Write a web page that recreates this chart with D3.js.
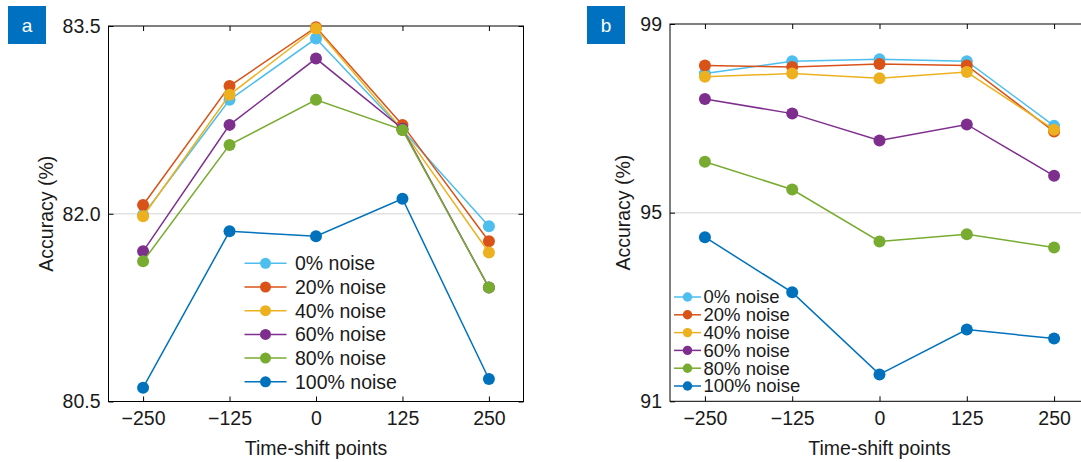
<!DOCTYPE html>
<html>
<head>
<meta charset="utf-8">
<script src="https://cdn.jsdelivr.net/npm/d3@7"></script>
<style>
    body { margin: 0; background: #fff; }
    svg { display: block; font-family: Arial, "Liberation Sans", sans-serif; }
    .axis path { display: none; }
    .axis line { stroke: #000; stroke-width: 1; }
    .axis text { font-size: 19.5px; fill: #1a1a1a; }
    .frame { fill: none; stroke: #000; stroke-width: 1; }
    .grid { stroke: #e2e2e2; stroke-width: 1.5; }
    .series { fill: none; stroke-width: 1.5; }
    .title { font-size: 19.5px; fill: #1a1a1a; }
    .legendText { fill: #1a1a1a; }
</style>
</head>
<body>
<script>
//categories and tick labels
var shiftPoints = [-250, -125, 0, 125, 250];
var noiseLabels = ["0% noise", "20% noise", "40% noise", "60% noise", "80% noise", "100% noise"];
var noiseColors = ["#4DBEEE", "#D95319", "#EDB120", "#7E2F8E", "#77AC30", "#0072BD"];
var yTicksA = [80.5, 82.0, 83.5];
var yTicksB = [91, 95, 99];

//panel a accuracy (%) for each noise level
var accA0 = [81.99, 82.91, 83.40, 82.67, 81.90];
var accA20 = [82.07, 83.02, 83.49, 82.71, 81.78];
var accA40 = [81.98, 82.95, 83.48, 82.67, 81.69];
var accA60 = [81.70, 82.71, 83.24, 82.68, 81.41];
var accA80 = [81.62, 82.55, 82.91, 82.67, 81.41];
var accA100 = [80.61, 81.86, 81.82, 82.12, 80.68];

//panel b accuracy (%) for each noise level
var accB0 = [97.95, 98.21, 98.25, 98.21, 96.84];
var accB20 = [98.12, 98.09, 98.15, 98.12, 96.72];
var accB40 = [97.88, 97.95, 97.85, 97.98, 96.76];
var accB60 = [97.41, 97.10, 96.53, 96.87, 95.78];
var accB80 = [96.08, 95.49, 94.39, 94.54, 94.26];
var accB100 = [94.48, 93.31, 91.57, 92.52, 92.33];

(function(){
    var svg = d3.select("body")
        .append("svg")
        .attr("width", 1081)
        .attr("height", 462);

    //panel a
    drawPanel({
        letter: "a", badgeX: 8,
        left: 108.5, right: 523.5, top: 26, bottom: 401.5,
        yDomain: [80.5, 83.5], yTicks: yTicksA, yFormat: d3.format(".1f"),
        series: [accA0, accA20, accA40, accA60, accA80, accA100],
        yTitleX: 53,
        legend: { x1: 244.5, x2: 286.5, textX: 295, y0: 263.3, step: 23.7, r: 5.5, size: 19.5 }
    });

    //panel b (right edge runs past the picture)
    drawPanel({
        letter: "b", badgeX: 587,
        left: 670, right: 1089, top: 24, bottom: 401.3,
        yDomain: [91, 99], yTicks: yTicksB, yFormat: d3.format("d"),
        series: [accB0, accB20, accB40, accB60, accB80, accB100],
        yTitleX: 630,
        legend: { x1: 674, x2: 701, textX: 703.5, y0: 297, step: 17.8, r: 4.7, size: 18.5 }
    });

    function drawPanel(p){
        var x = d3.scaleLinear()
            .domain([-300, 300])
            .range([p.left, p.right]);

        var y = d3.scaleLinear()
            .domain(p.yDomain)
            .range([p.bottom, p.top]);

        var g = svg.append("g");

        //light grid line at the middle tick
        g.append("line")
            .attr("class", "grid")
            .attr("x1", p.left)
            .attr("x2", p.right)
            .attr("y1", y(p.yTicks[1]))
            .attr("y2", y(p.yTicks[1]));

        //axes with inward ticks
        g.append("g")
            .attr("class", "axis")
            .attr("transform", "translate(0," + p.bottom + ")")
            .call(d3.axisBottom(x).tickValues(shiftPoints).tickSize(-5).tickPadding(10));

        g.append("g")
            .attr("class", "axis")
            .attr("transform", "translate(0," + p.top + ")")
            .call(d3.axisTop(x).tickValues(shiftPoints).tickSize(-5).tickFormat(""));

        g.append("g")
            .attr("class", "axis")
            .attr("transform", "translate(" + p.left + ",0)")
            .call(d3.axisLeft(y).tickValues(p.yTicks).tickSize(-5).tickPadding(8).tickFormat(p.yFormat));

        g.append("g")
            .attr("class", "axis")
            .attr("transform", "translate(" + p.right + ",0)")
            .call(d3.axisRight(y).tickValues(p.yTicks).tickSize(-5).tickFormat(""));

        //frame
        g.append("rect")
            .attr("class", "frame")
            .attr("x", p.left)
            .attr("y", p.top)
            .attr("width", p.right - p.left)
            .attr("height", p.bottom - p.top);

        //lines and markers
        var line = d3.line()
            .x(function(d, i){ return x(shiftPoints[i]); })
            .y(function(d){ return y(d); });

        p.series.forEach(function(vals, k){
            g.append("path")
                .datum(vals)
                .attr("class", "series")
                .attr("stroke", noiseColors[k])
                .attr("d", line);

            g.selectAll(".dot" + k)
                .data(vals)
                .enter()
                .append("circle")
                .attr("class", "dot" + k)
                .attr("cx", function(d, i){ return x(shiftPoints[i]); })
                .attr("cy", function(d){ return y(d); })
                .attr("r", 6)
                .style("fill", noiseColors[k]);
        });

        //legend
        var lg = p.legend;
        noiseLabels.forEach(function(label, k){
            var ly = lg.y0 + k * lg.step;
            g.append("line")
                .attr("x1", lg.x1).attr("x2", lg.x2)
                .attr("y1", ly).attr("y2", ly)
                .attr("stroke", noiseColors[k])
                .attr("stroke-width", 1.5);
            g.append("circle")
                .attr("cx", (lg.x1 + lg.x2) / 2)
                .attr("cy", ly)
                .attr("r", lg.r)
                .style("fill", noiseColors[k]);
            g.append("text")
                .attr("class", "legendText")
                .attr("x", lg.textX)
                .attr("y", ly)
                .attr("dy", "0.35em")
                .style("font-size", lg.size + "px")
                .text(label);
        });

        //axis titles
        g.append("text")
            .attr("class", "title")
            .attr("x", (p.left + p.right) / 2)
            .attr("y", 455)
            .attr("text-anchor", "middle")
            .text("Time-shift points");

        g.append("text")
            .attr("class", "title")
            .attr("transform", "translate(" + p.yTitleX + "," + ((p.top + p.bottom) / 2) + ") rotate(-90)")
            .attr("text-anchor", "middle")
            .text("Accuracy (%)");

        //panel letter badge
        g.append("rect")
            .attr("x", p.badgeX)
            .attr("y", 6)
            .attr("width", 38)
            .attr("height", 38)
            .style("fill", "#0070C0");

        g.append("text")
            .attr("x", p.badgeX + 19)
            .attr("y", 25)
            .attr("dy", "0.35em")
            .attr("text-anchor", "middle")
            .style("font-size", "19px")
            .style("fill", "#fff")
            .text(p.letter);
    }
})();
</script>
</body>
</html>
